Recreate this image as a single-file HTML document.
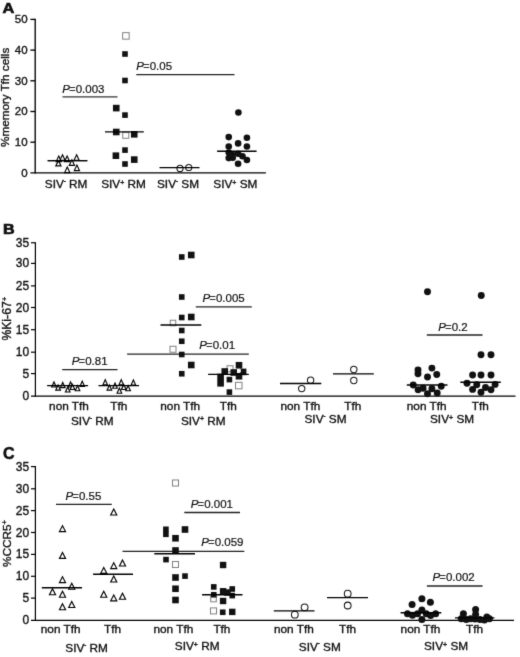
<!DOCTYPE html>
<html lang="en"><head><meta charset="utf-8"><title>Figure</title>
<style>html,body{margin:0;padding:0;background:#fff}svg{display:block;will-change:transform}text{font-family:'Liberation Sans', Arial, Helvetica, sans-serif;stroke:#111;stroke-width:0.35px;fill:#111}</style>
</head><body>
<svg width="520" height="657" viewBox="0 0 520 657">
<defs><filter id="soft" x="0" y="0" width="520" height="657" filterUnits="userSpaceOnUse" color-interpolation-filters="sRGB"><feConvolveMatrix order="3" kernelMatrix="0.01134 0.08382 0.01134 0.08382 0.61935 0.08382 0.01134 0.08382 0.01134" divisor="1" edgeMode="duplicate" preserveAlpha="true"/></filter></defs>
<g filter="url(#soft)">
<rect width="520" height="657" fill="#fff"/>
<g id="panelA">
<text x="2.6" y="13.0" font-size="14.8" text-anchor="start" font-weight="bold" style="stroke-width:0.7px" textLength="11.8" lengthAdjust="spacingAndGlyphs">A</text>
<line x1="35.2" y1="18.75" x2="35.2" y2="173.55" stroke="#000" stroke-width="1.35"/>
<line x1="30.4" y1="172.9" x2="265.9" y2="172.9" stroke="#000" stroke-width="1.25"/>
<text x="27.6" y="176.70000000000002" font-size="11.5" text-anchor="end" >0</text>
<line x1="30.4" y1="142.20000000000002" x2="35.2" y2="142.20000000000002" stroke="#000" stroke-width="1.35"/>
<text x="27.6" y="146.00000000000003" font-size="11.5" text-anchor="end" >10</text>
<line x1="30.4" y1="111.5" x2="35.2" y2="111.5" stroke="#000" stroke-width="1.35"/>
<text x="27.6" y="115.3" font-size="11.5" text-anchor="end" >20</text>
<line x1="30.4" y1="80.80000000000001" x2="35.2" y2="80.80000000000001" stroke="#000" stroke-width="1.35"/>
<text x="27.6" y="84.60000000000001" font-size="11.5" text-anchor="end" >30</text>
<line x1="30.4" y1="50.10000000000001" x2="35.2" y2="50.10000000000001" stroke="#000" stroke-width="1.35"/>
<text x="27.6" y="53.900000000000006" font-size="11.5" text-anchor="end" >40</text>
<line x1="30.4" y1="19.400000000000006" x2="35.2" y2="19.400000000000006" stroke="#000" stroke-width="1.35"/>
<text x="27.6" y="23.200000000000006" font-size="11.5" text-anchor="end" >50</text>
<text transform="translate(8.6,97.35) rotate(-90)" font-size="11.7" text-anchor="middle">%memory Tfh cells</text>
<text x="62.3" y="92.5" font-size="11.5" text-anchor="start" style="stroke-width:0.2px"><tspan font-style="italic">P</tspan><tspan dx="-0.9" style="stroke:none;fill:#333">=</tspan><tspan dx="-0.1">0.003</tspan></text>
<line x1="62.5" y1="96.8" x2="117.5" y2="96.8" stroke="#333" stroke-width="1.2"/>
<text x="136.3" y="70" font-size="11.5" text-anchor="start" style="stroke-width:0.2px"><tspan font-style="italic">P</tspan><tspan dx="-0.9" style="stroke:none;fill:#333">=</tspan><tspan dx="-0.1">0.05</tspan></text>
<line x1="136.3" y1="74.6" x2="234.5" y2="74.6" stroke="#222" stroke-width="1.35"/>
<line x1="47.7" y1="160.6" x2="87.3" y2="160.6" stroke="#000" stroke-width="1.3"/>
<path d="M58.40 160.40L61.00 165.90L55.80 165.90Z" fill="#fff" stroke="#000" stroke-width="1.15" stroke-linejoin="miter"/>
<path d="M58.75 156.05L61.35 161.55L56.15 161.55Z" fill="#fff" stroke="#000" stroke-width="1.15" stroke-linejoin="miter"/>
<path d="M62.50 154.80L65.10 160.30L59.90 160.30Z" fill="#fff" stroke="#000" stroke-width="1.15" stroke-linejoin="miter"/>
<path d="M67.10 156.05L69.70 161.55L64.50 161.55Z" fill="#fff" stroke="#000" stroke-width="1.15" stroke-linejoin="miter"/>
<path d="M71.90 159.80L74.50 165.30L69.30 165.30Z" fill="#fff" stroke="#000" stroke-width="1.15" stroke-linejoin="miter"/>
<path d="M76.60 154.80L79.20 160.30L74.00 160.30Z" fill="#fff" stroke="#000" stroke-width="1.15" stroke-linejoin="miter"/>
<path d="M67.25 167.10L69.85 172.60L64.65 172.60Z" fill="#fff" stroke="#000" stroke-width="1.15" stroke-linejoin="miter"/>
<path d="M76.90 165.05L79.50 170.55L74.30 170.55Z" fill="#fff" stroke="#000" stroke-width="1.15" stroke-linejoin="miter"/>
<line x1="47.7" y1="160.6" x2="87.3" y2="160.6" stroke="#000" stroke-width="1.3"/>
<rect x="122.65" y="32.65" width="6.5" height="6.5" fill="#fff" stroke="#808080" stroke-width="1"/>
<rect x="122.20" y="51.20" width="5.6" height="5.6" fill="#111"/>
<rect x="122.20" y="77.70" width="5.6" height="5.6" fill="#111"/>
<rect x="122.20" y="112.30" width="5.6" height="5.6" fill="#111"/>
<rect x="122.20" y="147.30" width="5.6" height="5.6" fill="#111"/>
<rect x="122.20" y="161.20" width="5.6" height="5.6" fill="#111"/>
<rect x="112.95" y="104.80" width="6.6" height="6.6" fill="#111"/>
<rect x="112.95" y="128.70" width="6.6" height="6.6" fill="#111"/>
<rect x="130.95" y="131.00" width="6.6" height="6.6" fill="#111"/>
<rect x="112.60" y="152.40" width="6.6" height="6.6" fill="#111"/>
<rect x="130.95" y="156.30" width="6.6" height="6.6" fill="#111"/>
<rect x="122.75" y="132.30" width="6" height="6" fill="#fff" stroke="#808080" stroke-width="1"/>
<line x1="105" y1="131.9" x2="143.8" y2="131.9" stroke="#000" stroke-width="1.4"/>
<circle cx="180" cy="168.4" r="3.08" fill="#fff" stroke="#151515" stroke-width="1.05"/>
<circle cx="188.75" cy="167.5" r="3.08" fill="#fff" stroke="#151515" stroke-width="1.05"/>
<line x1="159.5" y1="167.7" x2="199.5" y2="167.7" stroke="#000" stroke-width="1.3"/>
<circle cx="238.4" cy="112.5" r="3.3" fill="#111"/>
<circle cx="228.75" cy="137.1" r="3.3" fill="#111"/>
<circle cx="246.9" cy="137.75" r="3.3" fill="#111"/>
<circle cx="238.1" cy="143.4" r="3.3" fill="#111"/>
<circle cx="228.75" cy="146.5" r="3.3" fill="#111"/>
<circle cx="246.9" cy="146.5" r="3.3" fill="#111"/>
<circle cx="228.75" cy="152.5" r="3.3" fill="#111"/>
<circle cx="231.9" cy="154.4" r="3.3" fill="#111"/>
<circle cx="238.1" cy="153.75" r="3.3" fill="#111"/>
<circle cx="242.5" cy="156.25" r="3.3" fill="#111"/>
<circle cx="228.75" cy="158.1" r="3.3" fill="#111"/>
<circle cx="232.75" cy="157.75" r="3.3" fill="#111"/>
<circle cx="246.9" cy="160" r="3.3" fill="#111"/>
<circle cx="238.1" cy="163.75" r="3.3" fill="#111"/>
<line x1="217.1" y1="151.3" x2="256.6" y2="151.3" stroke="#000" stroke-width="1.4"/>
<text x="44.8" y="188.2" font-size="11.8" text-anchor="start" >SIV<tspan font-size="6" dy="-5.3">-</tspan><tspan dy="5.3"> RM</tspan></text>
<text x="101.2" y="188.2" font-size="11.8" text-anchor="start" >SIV<tspan font-size="7" dy="-3.5">+</tspan><tspan dy="3.5"> RM</tspan></text>
<text x="157.0" y="188.2" font-size="11.8" text-anchor="start" >SIV<tspan font-size="6" dy="-5.3">-</tspan><tspan dy="5.3"> SM</tspan></text>
<text x="213.3" y="188.2" font-size="11.8" text-anchor="start" >SIV<tspan font-size="7" dy="-3.5">+</tspan><tspan dy="3.5"> SM</tspan></text>
</g>
<g id="panelB">
<text x="3.1" y="234.2" font-size="14.8" text-anchor="start" font-weight="bold" style="stroke-width:0.7px" textLength="11.6" lengthAdjust="spacingAndGlyphs">B</text>
<line x1="35.4" y1="242.25" x2="35.4" y2="396.70000000000005" stroke="#000" stroke-width="1.2"/>
<line x1="31.0" y1="396.1" x2="515.5" y2="396.1" stroke="#000" stroke-width="1.25"/>
<text x="29.2" y="400.1" font-size="12" text-anchor="end" >0</text>
<line x1="31.0" y1="373.6" x2="35.4" y2="373.6" stroke="#000" stroke-width="1.2"/>
<text x="29.2" y="377.6" font-size="12" text-anchor="end" >5</text>
<line x1="31.0" y1="352.2" x2="35.4" y2="352.2" stroke="#000" stroke-width="1.2"/>
<text x="29.2" y="356.2" font-size="12" text-anchor="end" >10</text>
<line x1="31.0" y1="329.7" x2="35.4" y2="329.7" stroke="#000" stroke-width="1.2"/>
<text x="29.2" y="333.7" font-size="12" text-anchor="end" >15</text>
<line x1="31.0" y1="307.5" x2="35.4" y2="307.5" stroke="#000" stroke-width="1.2"/>
<text x="29.2" y="311.5" font-size="12" text-anchor="end" >20</text>
<line x1="31.0" y1="285.9" x2="35.4" y2="285.9" stroke="#000" stroke-width="1.2"/>
<text x="29.2" y="289.9" font-size="12" text-anchor="end" >25</text>
<line x1="31.0" y1="263.4" x2="35.4" y2="263.4" stroke="#000" stroke-width="1.2"/>
<text x="29.2" y="267.4" font-size="12" text-anchor="end" >30</text>
<line x1="31.0" y1="242.75" x2="35.4" y2="242.75" stroke="#000" stroke-width="1.2"/>
<text x="29.2" y="246.75" font-size="12" text-anchor="end" >35</text>
<text transform="translate(11.2,318.75) rotate(-90)" font-size="12.2" text-anchor="middle">%Ki-67<tspan font-size="7.5" dy="-4">+</tspan></text>
<text x="71.8" y="365.0" font-size="11.5" text-anchor="start" style="stroke-width:0.2px"><tspan font-style="italic">P</tspan><tspan dx="-0.9" style="stroke:none;fill:#333">=</tspan><tspan dx="-0.1">0.81</tspan></text>
<line x1="62.2" y1="369.6" x2="117.5" y2="369.6" stroke="#222" stroke-width="1.35"/>
<text x="202.5" y="302" font-size="11.5" text-anchor="start" style="stroke-width:0.2px"><tspan font-style="italic">P</tspan><tspan dx="-0.9" style="stroke:none;fill:#333">=</tspan><tspan dx="-0.1">0.005</tspan></text>
<line x1="195.8" y1="306.8" x2="251.8" y2="306.8" stroke="#222" stroke-width="1.35"/>
<text x="199.3" y="348.8" font-size="11.5" text-anchor="start" style="stroke-width:0.2px"><tspan font-style="italic">P</tspan><tspan dx="-0.9" style="stroke:none;fill:#333">=</tspan><tspan dx="-0.1">0.01</tspan></text>
<line x1="127.1" y1="354.1" x2="248.8" y2="354.1" stroke="#222" stroke-width="1.35"/>
<text x="438.3" y="330.8" font-size="11.5" text-anchor="start" style="stroke-width:0.2px"><tspan font-style="italic">P</tspan><tspan dx="-0.9" style="stroke:none;fill:#333">=</tspan><tspan dx="-0.1">0.2</tspan></text>
<line x1="426.8" y1="335" x2="482.5" y2="335" stroke="#222" stroke-width="1.35"/>
<path d="M54.00 381.90L56.30 387.00L51.70 387.00Z" fill="#fff" stroke="#000" stroke-width="1.15" stroke-linejoin="miter"/>
<path d="M58.10 385.00L60.40 390.10L55.80 390.10Z" fill="#fff" stroke="#000" stroke-width="1.15" stroke-linejoin="miter"/>
<path d="M62.75 382.50L65.05 387.60L60.45 387.60Z" fill="#fff" stroke="#000" stroke-width="1.15" stroke-linejoin="miter"/>
<path d="M67.75 386.90L70.05 392.00L65.45 392.00Z" fill="#fff" stroke="#000" stroke-width="1.15" stroke-linejoin="miter"/>
<path d="M70.60 381.90L72.90 387.00L68.30 387.00Z" fill="#fff" stroke="#000" stroke-width="1.15" stroke-linejoin="miter"/>
<path d="M72.50 384.40L74.80 389.50L70.20 389.50Z" fill="#fff" stroke="#000" stroke-width="1.15" stroke-linejoin="miter"/>
<path d="M77.50 385.60L79.80 390.70L75.20 390.70Z" fill="#fff" stroke="#000" stroke-width="1.15" stroke-linejoin="miter"/>
<path d="M82.25 381.25L84.55 386.35L79.95 386.35Z" fill="#fff" stroke="#000" stroke-width="1.15" stroke-linejoin="miter"/>
<line x1="47.1" y1="385.6" x2="88.1" y2="385.6" stroke="#000" stroke-width="1.4"/>
<path d="M105.25 379.75L107.55 384.85L102.95 384.85Z" fill="#fff" stroke="#000" stroke-width="1.15" stroke-linejoin="miter"/>
<path d="M109.40 385.00L111.70 390.10L107.10 390.10Z" fill="#fff" stroke="#000" stroke-width="1.15" stroke-linejoin="miter"/>
<path d="M115.00 383.10L117.30 388.20L112.70 388.20Z" fill="#fff" stroke="#000" stroke-width="1.15" stroke-linejoin="miter"/>
<path d="M119.40 388.10L121.70 393.20L117.10 393.20Z" fill="#fff" stroke="#000" stroke-width="1.15" stroke-linejoin="miter"/>
<path d="M121.25 379.75L123.55 384.85L118.95 384.85Z" fill="#fff" stroke="#000" stroke-width="1.15" stroke-linejoin="miter"/>
<path d="M123.75 384.40L126.05 389.50L121.45 389.50Z" fill="#fff" stroke="#000" stroke-width="1.15" stroke-linejoin="miter"/>
<path d="M128.10 385.60L130.40 390.70L125.80 390.70Z" fill="#fff" stroke="#000" stroke-width="1.15" stroke-linejoin="miter"/>
<path d="M133.40 380.00L135.70 385.10L131.10 385.10Z" fill="#fff" stroke="#000" stroke-width="1.15" stroke-linejoin="miter"/>
<line x1="98.5" y1="385.6" x2="139" y2="385.6" stroke="#000" stroke-width="1.4"/>
<rect x="178.95" y="254.20" width="5.6" height="5.6" fill="#111"/>
<rect x="178.95" y="294.20" width="5.6" height="5.6" fill="#111"/>
<rect x="178.95" y="314.70" width="5.6" height="5.6" fill="#111"/>
<rect x="178.95" y="327.70" width="5.6" height="5.6" fill="#111"/>
<rect x="178.95" y="338.45" width="5.6" height="5.6" fill="#111"/>
<rect x="178.95" y="351.70" width="5.6" height="5.6" fill="#111"/>
<rect x="178.95" y="370.95" width="5.6" height="5.6" fill="#111"/>
<rect x="187.95" y="251.70" width="6.6" height="6.6" fill="#111"/>
<rect x="187.95" y="313.70" width="6.6" height="6.6" fill="#111"/>
<rect x="187.95" y="361.70" width="6.6" height="6.6" fill="#111"/>
<rect x="170.25" y="320.25" width="5.5" height="5.5" fill="#fff" stroke="#808080" stroke-width="1"/>
<rect x="170.00" y="346.25" width="6" height="6" fill="#fff" stroke="#808080" stroke-width="1"/>
<line x1="160.5" y1="325" x2="201.3" y2="325" stroke="#000" stroke-width="1.4"/>
<rect x="227.00" y="365.75" width="6" height="6" fill="#fff" stroke="#808080" stroke-width="1"/>
<rect x="235.70" y="361.95" width="6.6" height="6.6" fill="#111"/>
<rect x="221.45" y="368.20" width="6.6" height="6.6" fill="#111"/>
<rect x="217.30" y="373.70" width="6.6" height="6.6" fill="#111"/>
<rect x="217.30" y="380.00" width="6.6" height="6.6" fill="#111"/>
<rect x="230.45" y="369.20" width="6.6" height="6.6" fill="#111"/>
<rect x="239.80" y="368.60" width="6.6" height="6.6" fill="#111"/>
<rect x="235.70" y="372.95" width="6.6" height="6.6" fill="#111"/>
<rect x="226.60" y="376.80" width="5.6" height="5.6" fill="#111"/>
<rect x="226.60" y="389.30" width="5.6" height="5.6" fill="#111"/>
<rect x="237.2" y="369.2" width="3.6" height="3.2" fill="#fff"/>
<rect x="235.50" y="382.35" width="6.5" height="6.5" fill="#fff" stroke="#808080" stroke-width="1"/>
<line x1="208.1" y1="374.4" x2="248.8" y2="374.4" stroke="#000" stroke-width="1.4"/>
<circle cx="301.7" cy="388.6" r="3.18" fill="#fff" stroke="#151515" stroke-width="1.05"/>
<circle cx="310.6" cy="380.2" r="3.18" fill="#fff" stroke="#151515" stroke-width="1.05"/>
<line x1="280" y1="383.5" x2="321.3" y2="383.5" stroke="#000" stroke-width="1.4"/>
<circle cx="353.8" cy="369.5" r="3.18" fill="#fff" stroke="#151515" stroke-width="1.05"/>
<circle cx="353.8" cy="380.5" r="3.18" fill="#fff" stroke="#151515" stroke-width="1.05"/>
<line x1="333" y1="373.9" x2="373.8" y2="373.9" stroke="#000" stroke-width="1.4"/>
<circle cx="427.5" cy="291.75" r="3.45" fill="#111"/>
<circle cx="431.9" cy="368.1" r="3.45" fill="#111"/>
<circle cx="418" cy="370" r="3.45" fill="#111"/>
<circle cx="418" cy="373.75" r="3.45" fill="#111"/>
<circle cx="436.75" cy="374.5" r="3.45" fill="#111"/>
<circle cx="427.5" cy="377" r="3.45" fill="#111"/>
<circle cx="413.25" cy="385" r="3.45" fill="#111"/>
<circle cx="441.25" cy="386.25" r="3.45" fill="#111"/>
<circle cx="418.1" cy="389.7" r="3.45" fill="#111"/>
<circle cx="423.1" cy="388.2" r="3.45" fill="#111"/>
<circle cx="431.9" cy="388.8" r="3.45" fill="#111"/>
<circle cx="437.2" cy="393" r="3.45" fill="#111"/>
<circle cx="427.5" cy="393.75" r="3.45" fill="#111"/>
<line x1="406.8" y1="385" x2="447.5" y2="385" stroke="#000" stroke-width="1.4"/>
<circle cx="481.25" cy="295.5" r="3.45" fill="#111"/>
<circle cx="481" cy="354.8" r="3.45" fill="#111"/>
<circle cx="491" cy="354.8" r="3.45" fill="#111"/>
<circle cx="472.6" cy="375" r="3.45" fill="#111"/>
<circle cx="481" cy="375" r="3.45" fill="#111"/>
<circle cx="491" cy="375" r="3.45" fill="#111"/>
<circle cx="467" cy="383.2" r="3.45" fill="#111"/>
<circle cx="476.75" cy="384.75" r="3.45" fill="#111"/>
<circle cx="485.5" cy="387.5" r="3.45" fill="#111"/>
<circle cx="495.1" cy="384.4" r="3.45" fill="#111"/>
<circle cx="472.6" cy="389.4" r="3.45" fill="#111"/>
<circle cx="491" cy="389.75" r="3.45" fill="#111"/>
<circle cx="481" cy="392.3" r="3.45" fill="#111"/>
<line x1="460.3" y1="382.3" x2="500.8" y2="382.3" stroke="#000" stroke-width="1.4"/>
<text x="49.1" y="410.3" font-size="11.8" text-anchor="start" >non Tfh</text>
<text x="160.3" y="410.3" font-size="11.8" text-anchor="start" >non Tfh</text>
<text x="280.5" y="410.3" font-size="11.8" text-anchor="start" >non Tfh</text>
<text x="406.8" y="410.3" font-size="11.8" text-anchor="start" >non Tfh</text>
<text x="110.2" y="410.3" font-size="11.8" text-anchor="start" >Tfh</text>
<text x="219.8" y="410.3" font-size="11.8" text-anchor="start" >Tfh</text>
<text x="344.2" y="410.3" font-size="11.8" text-anchor="start" >Tfh</text>
<text x="471.7" y="410.3" font-size="11.8" text-anchor="start" >Tfh</text>
<text x="71" y="424.9" font-size="11.8" text-anchor="start" >SIV<tspan font-size="6" dy="-5.3">-</tspan><tspan dy="5.3"> RM</tspan></text>
<text x="180.9" y="424.9" font-size="11.8" text-anchor="start" >SIV<tspan font-size="7" dy="-3.5">+</tspan><tspan dy="3.5"> RM</tspan></text>
<text x="304.5" y="423.4" font-size="11.8" text-anchor="start" >SIV<tspan font-size="6" dy="-5.3">-</tspan><tspan dy="5.3"> SM</tspan></text>
<text x="430" y="423.4" font-size="11.8" text-anchor="start" >SIV<tspan font-size="7" dy="-3.5">+</tspan><tspan dy="3.5"> SM</tspan></text>
</g>
<g id="panelC">
<text x="3.0" y="458.8" font-size="16" text-anchor="start" font-weight="bold" style="stroke-width:0.5px">C</text>
<line x1="35.4" y1="466.1" x2="35.4" y2="620.9" stroke="#000" stroke-width="1.2"/>
<line x1="31.0" y1="620.3" x2="514" y2="620.3" stroke="#000" stroke-width="1.25"/>
<text x="29.2" y="624.3" font-size="12" text-anchor="end" >0</text>
<line x1="31.0" y1="598.1" x2="35.4" y2="598.1" stroke="#000" stroke-width="1.2"/>
<text x="29.2" y="602.1" font-size="12" text-anchor="end" >5</text>
<line x1="31.0" y1="576.3" x2="35.4" y2="576.3" stroke="#000" stroke-width="1.2"/>
<text x="29.2" y="580.3" font-size="12" text-anchor="end" >10</text>
<line x1="31.0" y1="554.4" x2="35.4" y2="554.4" stroke="#000" stroke-width="1.2"/>
<text x="29.2" y="558.4" font-size="12" text-anchor="end" >15</text>
<line x1="31.0" y1="532.5" x2="35.4" y2="532.5" stroke="#000" stroke-width="1.2"/>
<text x="29.2" y="536.5" font-size="12" text-anchor="end" >20</text>
<line x1="31.0" y1="510.6" x2="35.4" y2="510.6" stroke="#000" stroke-width="1.2"/>
<text x="29.2" y="514.6" font-size="12" text-anchor="end" >25</text>
<line x1="31.0" y1="488.8" x2="35.4" y2="488.8" stroke="#000" stroke-width="1.2"/>
<text x="29.2" y="492.8" font-size="12" text-anchor="end" >30</text>
<line x1="31.0" y1="466.6" x2="35.4" y2="466.6" stroke="#000" stroke-width="1.2"/>
<text x="29.2" y="470.6" font-size="12" text-anchor="end" >35</text>
<text transform="translate(11.2,543.6) rotate(-90)" font-size="11.8" text-anchor="middle">%CCR5<tspan font-size="7.5" dy="-4">+</tspan></text>
<text x="65.5" y="499.5" font-size="11.5" text-anchor="start" style="stroke-width:0.2px"><tspan font-style="italic">P</tspan><tspan dx="-0.9" style="stroke:none;fill:#333">=</tspan><tspan dx="-0.1">0.55</tspan></text>
<line x1="56" y1="504.3" x2="111.8" y2="504.3" stroke="#222" stroke-width="1.35"/>
<text x="190.8" y="508" font-size="11.5" text-anchor="start" style="stroke-width:0.2px"><tspan font-style="italic">P</tspan><tspan dx="-0.9" style="stroke:none;fill:#333">=</tspan><tspan dx="-0.1">0.001</tspan></text>
<line x1="184.3" y1="512.5" x2="240" y2="512.5" stroke="#222" stroke-width="1.35"/>
<text x="201.3" y="545.8" font-size="11.5" text-anchor="start" style="stroke-width:0.2px"><tspan font-style="italic">P</tspan><tspan dx="-0.9" style="stroke:none;fill:#333">=</tspan><tspan dx="-0.1">0.059</tspan></text>
<line x1="122.5" y1="551.3" x2="244.3" y2="551.3" stroke="#222" stroke-width="1.35"/>
<text x="432.5" y="581.3" font-size="11.5" text-anchor="start" style="stroke-width:0.2px"><tspan font-style="italic">P</tspan><tspan dx="-0.9" style="stroke:none;fill:#333">=</tspan><tspan dx="-0.1">0.002</tspan></text>
<line x1="426.9" y1="586" x2="482.5" y2="586" stroke="#222" stroke-width="1.35"/>
<path d="M62.50 525.70L65.55 531.60L59.45 531.60Z" fill="#fff" stroke="#000" stroke-width="1.15" stroke-linejoin="miter"/>
<path d="M62.50 552.50L65.55 558.40L59.45 558.40Z" fill="#fff" stroke="#000" stroke-width="1.15" stroke-linejoin="miter"/>
<path d="M62.50 576.70L65.55 582.60L59.45 582.60Z" fill="#fff" stroke="#000" stroke-width="1.15" stroke-linejoin="miter"/>
<path d="M71.75 583.35L74.80 589.25L68.70 589.25Z" fill="#fff" stroke="#000" stroke-width="1.15" stroke-linejoin="miter"/>
<path d="M52.50 588.85L55.55 594.75L49.45 594.75Z" fill="#fff" stroke="#000" stroke-width="1.15" stroke-linejoin="miter"/>
<path d="M62.50 591.35L65.55 597.25L59.45 597.25Z" fill="#fff" stroke="#000" stroke-width="1.15" stroke-linejoin="miter"/>
<path d="M71.75 601.60L74.80 607.50L68.70 607.50Z" fill="#fff" stroke="#000" stroke-width="1.15" stroke-linejoin="miter"/>
<path d="M62.50 603.85L65.55 609.75L59.45 609.75Z" fill="#fff" stroke="#000" stroke-width="1.15" stroke-linejoin="miter"/>
<line x1="41.8" y1="587.7" x2="82" y2="587.7" stroke="#000" stroke-width="1.4"/>
<path d="M113.75 509.10L116.80 515.00L110.70 515.00Z" fill="#fff" stroke="#000" stroke-width="1.15" stroke-linejoin="miter"/>
<path d="M122.50 560.10L125.55 566.00L119.45 566.00Z" fill="#fff" stroke="#000" stroke-width="1.15" stroke-linejoin="miter"/>
<path d="M113.75 562.70L116.80 568.60L110.70 568.60Z" fill="#fff" stroke="#000" stroke-width="1.15" stroke-linejoin="miter"/>
<path d="M103.75 567.40L106.80 573.30L100.70 573.30Z" fill="#fff" stroke="#000" stroke-width="1.15" stroke-linejoin="miter"/>
<path d="M113.75 576.10L116.80 582.00L110.70 582.00Z" fill="#fff" stroke="#000" stroke-width="1.15" stroke-linejoin="miter"/>
<path d="M103.75 591.35L106.80 597.25L100.70 597.25Z" fill="#fff" stroke="#000" stroke-width="1.15" stroke-linejoin="miter"/>
<path d="M113.75 594.90L116.80 600.80L110.70 600.80Z" fill="#fff" stroke="#000" stroke-width="1.15" stroke-linejoin="miter"/>
<path d="M122.50 593.35L125.55 599.25L119.45 599.25Z" fill="#fff" stroke="#000" stroke-width="1.15" stroke-linejoin="miter"/>
<line x1="93.1" y1="574.3" x2="133" y2="574.3" stroke="#000" stroke-width="1.4"/>
<rect x="172.50" y="480.00" width="6" height="6" fill="#fff" stroke="#808080" stroke-width="1"/>
<rect x="163.10" y="526.50" width="5.6" height="5.6" fill="#111"/>
<rect x="163.10" y="531.50" width="5.6" height="5.6" fill="#111"/>
<rect x="163.20" y="556.80" width="5.6" height="5.6" fill="#111"/>
<rect x="182.20" y="573.30" width="5.6" height="5.6" fill="#111"/>
<rect x="181.70" y="526.20" width="6.6" height="6.6" fill="#111"/>
<rect x="172.20" y="534.95" width="6.6" height="6.6" fill="#111"/>
<rect x="172.20" y="547.20" width="6.6" height="6.6" fill="#111"/>
<rect x="172.20" y="574.20" width="6.6" height="6.6" fill="#111"/>
<rect x="172.20" y="585.45" width="6.6" height="6.6" fill="#111"/>
<rect x="172.20" y="596.70" width="6.6" height="6.6" fill="#111"/>
<rect x="172.50" y="561.50" width="6" height="6" fill="#fff" stroke="#808080" stroke-width="1"/>
<line x1="154.3" y1="553.8" x2="195" y2="553.8" stroke="#000" stroke-width="1.4"/>
<rect x="210.70" y="596.20" width="5.6" height="5.6" fill="#fff" stroke="#808080" stroke-width="1"/>
<rect x="219.90" y="561.80" width="6.4" height="6.4" fill="#111"/>
<rect x="219.90" y="588.05" width="6.4" height="6.4" fill="#111"/>
<rect x="224.30" y="589.30" width="6.4" height="6.4" fill="#111"/>
<rect x="219.90" y="597.80" width="6.4" height="6.4" fill="#111"/>
<rect x="229.05" y="608.70" width="6.4" height="6.4" fill="#111"/>
<rect x="210.95" y="584.10" width="5.6" height="5.6" fill="#111"/>
<rect x="210.95" y="591.95" width="5.6" height="5.6" fill="#111"/>
<rect x="229.45" y="586.20" width="5.6" height="5.6" fill="#111"/>
<rect x="229.45" y="592.80" width="5.6" height="5.6" fill="#111"/>
<rect x="219.95" y="609.45" width="5.6" height="5.6" fill="#111"/>
<rect x="210.50" y="607.90" width="6" height="6" fill="#fff" stroke="#808080" stroke-width="1"/>
<line x1="202.1" y1="594.7" x2="242.5" y2="594.7" stroke="#000" stroke-width="1.4"/>
<circle cx="294.8" cy="614.7" r="3.38" fill="#fff" stroke="#151515" stroke-width="1.05"/>
<circle cx="304.6" cy="607.3" r="3.38" fill="#fff" stroke="#151515" stroke-width="1.05"/>
<line x1="273.8" y1="610.9" x2="314.5" y2="610.9" stroke="#000" stroke-width="1.4"/>
<circle cx="347.7" cy="593.7" r="3.38" fill="#fff" stroke="#151515" stroke-width="1.05"/>
<circle cx="347.7" cy="605.5" r="3.38" fill="#fff" stroke="#151515" stroke-width="1.05"/>
<line x1="327" y1="597.6" x2="368" y2="597.6" stroke="#000" stroke-width="1.4"/>
<circle cx="421.9" cy="598.75" r="3.5" fill="#111"/>
<circle cx="412.1" cy="604.4" r="3.5" fill="#111"/>
<circle cx="430.4" cy="602.25" r="3.5" fill="#111"/>
<circle cx="421.9" cy="610" r="3.5" fill="#111"/>
<circle cx="407.5" cy="613.75" r="3.5" fill="#111"/>
<circle cx="412.5" cy="615.25" r="3.5" fill="#111"/>
<circle cx="417.5" cy="613.75" r="3.5" fill="#111"/>
<circle cx="426.25" cy="613.75" r="3.5" fill="#111"/>
<circle cx="430.6" cy="615.6" r="3.5" fill="#111"/>
<circle cx="435.6" cy="613.75" r="3.5" fill="#111"/>
<circle cx="421.9" cy="619.4" r="3.5" fill="#111"/>
<line x1="400.6" y1="612.8" x2="441.3" y2="612.8" stroke="#000" stroke-width="1.4"/>
<circle cx="475.6" cy="609.4" r="3.5" fill="#111"/>
<circle cx="463.4" cy="613.75" r="3.5" fill="#111"/>
<circle cx="475.6" cy="614.4" r="3.5" fill="#111"/>
<circle cx="486.9" cy="616.9" r="3.5" fill="#111"/>
<circle cx="461.25" cy="618.75" r="3.5" fill="#111"/>
<circle cx="466.25" cy="619.4" r="3.5" fill="#111"/>
<circle cx="470.6" cy="618.75" r="3.5" fill="#111"/>
<circle cx="475" cy="619" r="3.5" fill="#111"/>
<circle cx="480" cy="619.4" r="3.5" fill="#111"/>
<circle cx="484.4" cy="620" r="3.5" fill="#111"/>
<circle cx="489.4" cy="618.75" r="3.5" fill="#111"/>
<line x1="455" y1="617.9" x2="494.4" y2="617.9" stroke="#000" stroke-width="1.4"/>
<text x="40.8" y="633.1" font-size="11.8" text-anchor="start" >non Tfh</text>
<text x="153.5" y="633.1" font-size="11.8" text-anchor="start" >non Tfh</text>
<text x="274.0" y="633.1" font-size="11.8" text-anchor="start" >non Tfh</text>
<text x="400.6" y="633.1" font-size="11.8" text-anchor="start" >non Tfh</text>
<text x="104.0" y="633.1" font-size="11.8" text-anchor="start" >Tfh</text>
<text x="213.4" y="633.1" font-size="11.8" text-anchor="start" >Tfh</text>
<text x="339.0" y="633.1" font-size="11.8" text-anchor="start" >Tfh</text>
<text x="466.0" y="633.1" font-size="11.8" text-anchor="start" >Tfh</text>
<text x="65.3" y="651.8" font-size="11.8" text-anchor="start" >SIV<tspan font-size="6" dy="-5.3">-</tspan><tspan dy="5.3"> RM</tspan></text>
<text x="174.8" y="650.3" font-size="11.8" text-anchor="start" >SIV<tspan font-size="7" dy="-3.5">+</tspan><tspan dy="3.5"> RM</tspan></text>
<text x="298.8" y="650.5" font-size="11.8" text-anchor="start" >SIV<tspan font-size="6" dy="-5.3">-</tspan><tspan dy="5.3"> SM</tspan></text>
<text x="424" y="650.2" font-size="11.8" text-anchor="start" >SIV<tspan font-size="7" dy="-3.5">+</tspan><tspan dy="3.5"> SM</tspan></text>
</g>
</g></svg></body></html>
